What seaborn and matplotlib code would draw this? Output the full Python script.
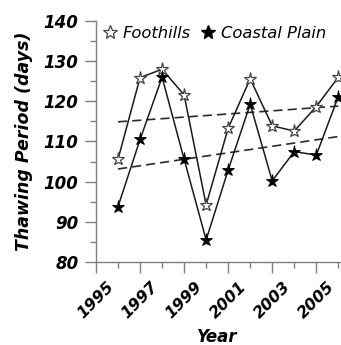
import numpy as np
import pandas as pd
import matplotlib
matplotlib.use("Agg")
import matplotlib.pyplot as plt
from matplotlib.lines import Line2D
from matplotlib.ticker import MultipleLocator
import seaborn as sns

years = [1996, 1997, 1998, 1999, 2000, 2001, 2002, 2003, 2004, 2005, 2006]
foothills = [105.6, 125.9, 128.0, 121.6, 94.2, 113.3, 125.6, 113.9, 112.6, 118.7, 126.0]
coastal = [93.8, 110.5, 126.0, 105.6, 85.5, 102.9, 119.3, 100.2, 107.5, 106.6, 121.2]
series_names = ["Foothills", "Coastal Plain"]
x_tick_labels = ["1995", "1997", "1999", "2001", "2003", "2005"]
y_tick_labels = ["80", "90", "100", "110", "120", "130", "140"]

sns.set_style("ticks")
plt.rcParams["font.family"] = ["DejaVu Sans"]
plt.rcParams["text.color"] = "black"
plt.rcParams["axes.labelcolor"] = "black"

df = pd.DataFrame({"Year": years, "Foothills": foothills, "Coastal": coastal})

fig = plt.figure(figsize=(3.41, 3.45), dpi=100)
ax = fig.add_axes([96 / 341, (345 - 262) / 345, 244.5 / 341, 241 / 345])

dash = (0, (5.5, 3.0))
sns.regplot(data=df, x="Year", y="Foothills", scatter=False, ci=None, ax=ax,
            line_kws=dict(color="#2a2a2a", lw=1.2, ls=dash))
sns.regplot(data=df, x="Year", y="Coastal", scatter=False, ci=None, ax=ax,
            line_kws=dict(color="#2a2a2a", lw=1.2, ls=dash))

sns.lineplot(data=df, x="Year", y="Foothills", ax=ax, color="#1a1a1a", lw=1.1,
             marker="*", markersize=9.5, markerfacecolor="white",
             markeredgecolor="#444444", markeredgewidth=0.9, clip_on=False, zorder=4)
sns.lineplot(data=df, x="Year", y="Coastal", ax=ax, color="#1a1a1a", lw=1.1,
             marker="*", markersize=9.5, markerfacecolor="black",
             markeredgecolor="black", markeredgewidth=0.6, clip_on=False, zorder=4)

ax.set_xlim(1995, 2006.1)
ax.set_ylim(80, 140)
ax.set_xticks([int(t) for t in x_tick_labels], x_tick_labels, rotation=45, ha="center")
ax.set_yticks([int(t) for t in y_tick_labels], y_tick_labels)
ax.xaxis.set_minor_locator(MultipleLocator(1))
ax.yaxis.set_minor_locator(MultipleLocator(5))

ax.tick_params(axis="both", which="major", length=8, width=1, color="#808080",
               direction="out", labelcolor="black")
ax.tick_params(axis="both", which="minor", length=4, width=1, color="#808080",
               direction="out")
ax.tick_params(axis="y", which="major", pad=4.5, labelsize=12)
ax.tick_params(axis="x", which="major", pad=4, labelsize=11.5)
for lab in ax.get_xticklabels() + ax.get_yticklabels():
    lab.set_fontweight("bold")
    lab.set_fontstyle("italic")

sns.despine(ax=ax)
for s in ["left", "bottom"]:
    ax.spines[s].set_color("#808080")
    ax.spines[s].set_linewidth(1)

ax.set_xlabel("Year", fontsize=12, fontweight="bold", fontstyle="italic", color="black")
ax.set_ylabel("Thawing Period (days)", fontsize=12.5, fontweight="bold",
              fontstyle="italic", color="black")
ax.xaxis.set_label_coords((217 - 96) / 244.5, -(342 - 262) / 241)
ax.yaxis.set_label_coords(-(96 - 24) / 244.5, 0.5)
ax.xaxis.label.set_va("baseline")
ax.yaxis.label.set_va("center")

handles = [
    Line2D([], [], ls="none", marker="*", markersize=10, markerfacecolor="white",
           markeredgecolor="#444444", markeredgewidth=0.9),
    Line2D([], [], ls="none", marker="*", markersize=10, markerfacecolor="black",
           markeredgecolor="black"),
]
leg = ax.legend(handles, series_names, ncol=2, loc="upper left", frameon=False,
                bbox_to_anchor=(-0.01, 1.02), handlelength=0.8, handletextpad=0.35,
                columnspacing=0.7, borderaxespad=0.2,
                prop=dict(size=11.8, style="italic"))
for t in leg.get_texts():
    t.set_color("black")

fig.savefig("out.png", dpi=100)
